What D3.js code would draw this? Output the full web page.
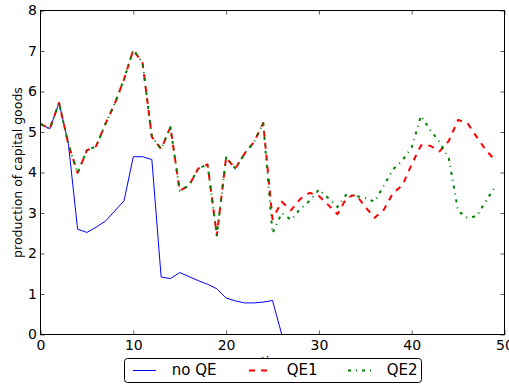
<!DOCTYPE html>
<html>
<head>
<meta charset="utf-8">
<script src="https://cdn.jsdelivr.net/npm/d3@7"></script>
<style>
  html, body { margin: 0; padding: 0; background: #fff; }
  svg { display: block; }
  text { font-family: "DejaVu Sans", sans-serif; fill: #000; }
</style>
</head>
<body>
<script>
// Production of capital goods over time under three policy scenarios.
const timeNoQE = d3.range(0, 27);
const timeQE = d3.range(0, 50);

const noQE = [5.2, 5.08, 5.72, 4.72, 2.6, 2.52, 2.65, 2.8, 3.05, 3.3,
  4.39, 4.39, 4.32, 1.42, 1.38, 1.53, 1.43, 1.33, 1.24, 1.13,
  0.9, 0.83, 0.78, 0.78, 0.8, 0.84, 0.0];

const qe1 = [5.2, 5.08, 5.72, 4.7, 3.99, 4.55, 4.65, 5.2, 5.7, 6.3,
  7.03, 6.7, 4.88, 4.58, 5.12, 3.55, 3.68, 4.1, 4.2, 2.45,
  4.37, 4.1, 4.47, 4.75, 5.22, 2.85, 3.28, 3.07, 3.35, 3.5,
  3.42, 3.2, 2.97, 3.38, 3.45, 3.15, 2.88, 3.08, 3.5, 3.68,
  4.2, 4.67, 4.66, 4.52, 4.78, 5.3, 5.22, 4.88, 4.55, 4.3];

const qe2 = [5.2, 5.08, 5.72, 4.7, 3.99, 4.55, 4.65, 5.2, 5.7, 6.3,
  7.03, 6.7, 4.88, 4.58, 5.12, 3.55, 3.68, 4.1, 4.2, 2.45,
  4.37, 4.1, 4.47, 4.75, 5.22, 2.5, 3.0, 2.83, 3.1, 3.3,
  3.58, 3.37, 3.15, 3.47, 3.42, 3.37, 3.28, 3.68, 4.08, 4.3,
  4.62, 5.4, 5.05, 4.75, 4.35, 3.05, 2.88, 2.92, 3.3, 3.65];

const seriesLabels = ["no QE", "QE1", "QE2"];
const xTicks = [0, 10, 20, 30, 40, 50];
const yTicks = [0, 1, 2, 3, 4, 5, 6, 7, 8];

const W = 509, H = 385;
const plotL = 40.5, plotR = 504.5, plotT = 10.5, plotB = 334.5;

const svg = d3.select("body").append("svg")
  .attr("width", W).attr("height", H);

const x = d3.scaleLinear().domain([0, 50]).range([plotL, plotR]);
const y = d3.scaleLinear().domain([0, 8]).range([plotB, plotT]);

svg.append("defs").append("clipPath").attr("id", "plot-clip")
  .append("rect")
  .attr("x", plotL).attr("y", plotT)
  .attr("width", plotR - plotL).attr("height", plotB - plotT);

// x-axis title (mostly tucked behind the legend box)
svg.append("text")
  .attr("x", 275).attr("y", 365.7)
  .attr("text-anchor", "middle")
  .style("font-size", "12.5px")
  .text("time");

// y-axis title
svg.append("text")
  .attr("transform", `translate(21.5, ${(plotT + plotB) / 2}) rotate(-90)`)
  .attr("text-anchor", "middle")
  .style("font-size", "12.5px")
  .text("production of capital goods");

// series lines
const styles = [
  { color: "#0000ff", width: 1, dash: null },
  { color: "#ff0000", width: 2, dash: "6,6" },
  { color: "#008000", width: 2, dash: "3,5,1,5" }
];
const series = [
  { t: timeNoQE, v: noQE },
  { t: timeQE, v: qe1 },
  { t: timeQE, v: qe2 }
];

const plot = svg.append("g").attr("clip-path", "url(#plot-clip)");
series.forEach((s, i) => {
  const pts = s.t.map((t, k) => [t, s.v[k]]);
  const line = d3.line().x(d => x(d[0])).y(d => y(d[1]));
  const p = plot.append("path")
    .attr("d", line(pts))
    .attr("fill", "none")
    .attr("stroke", styles[i].color)
    .attr("stroke-width", styles[i].width)
    .attr("stroke-linejoin", "round")
    .attr("stroke-linecap", "butt");
  if (styles[i].dash) p.attr("stroke-dasharray", styles[i].dash);
});

// axes with inward ticks on all four sides
function styleAxis(g) {
  g.select(".domain").remove();
  g.selectAll(".tick line").attr("stroke", "#333").attr("stroke-width", 0.8);
  g.selectAll(".tick text").style("font-size", "14px").attr("font-family", "DejaVu Sans");
}

svg.append("g").attr("transform", `translate(0,${plotB})`)
  .call(d3.axisBottom(x).tickValues(xTicks).tickFormat(d3.format("d"))
    .tickSizeInner(-4).tickSizeOuter(0).tickPadding(5.5))
  .call(styleAxis);

svg.append("g").attr("transform", `translate(0,${plotT})`)
  .call(d3.axisTop(x).tickValues(xTicks).tickFormat(() => "")
    .tickSizeInner(-4).tickSizeOuter(0))
  .call(styleAxis);

svg.append("g").attr("transform", `translate(${plotL},0)`)
  .call(d3.axisLeft(y).tickValues(yTicks).tickFormat(d3.format("d"))
    .tickSizeInner(-4).tickSizeOuter(0).tickPadding(3.5))
  .call(styleAxis);

svg.append("g").attr("transform", `translate(${plotR},0)`)
  .call(d3.axisRight(y).tickValues(yTicks).tickFormat(() => "")
    .tickSizeInner(-4).tickSizeOuter(0))
  .call(styleAxis);

// plot frame
svg.append("rect")
  .attr("x", plotL).attr("y", plotT)
  .attr("width", plotR - plotL).attr("height", plotB - plotT)
  .attr("fill", "none").attr("stroke", "#000").attr("stroke-width", 1);

// legend
const legend = svg.append("g");
legend.append("rect")
  .attr("x", 124.5).attr("y", 358.5)
  .attr("width", 297).attr("height", 24)
  .attr("rx", 3).attr("ry", 3)
  .attr("fill", "#fff").attr("stroke", "#000").attr("stroke-width", 1);

const handleX = [133, 249, 348];
const labelX = [171.7, 286.7, 386.7];
seriesLabels.forEach((lab, i) => {
  const h = legend.append("line")
    .attr("x1", handleX[i]).attr("x2", handleX[i] + 23)
    .attr("y1", 370.5).attr("y2", 370.5)
    .attr("stroke", styles[i].color)
    .attr("stroke-width", styles[i].width)
    .attr("stroke-linecap", "butt");
  if (styles[i].dash) h.attr("stroke-dasharray", styles[i].dash);
  legend.append("text")
    .attr("x", labelX[i]).attr("y", 375.4)
    .style("font-size", "15px")
    .text(lab);
});
</script>
</body>
</html>
